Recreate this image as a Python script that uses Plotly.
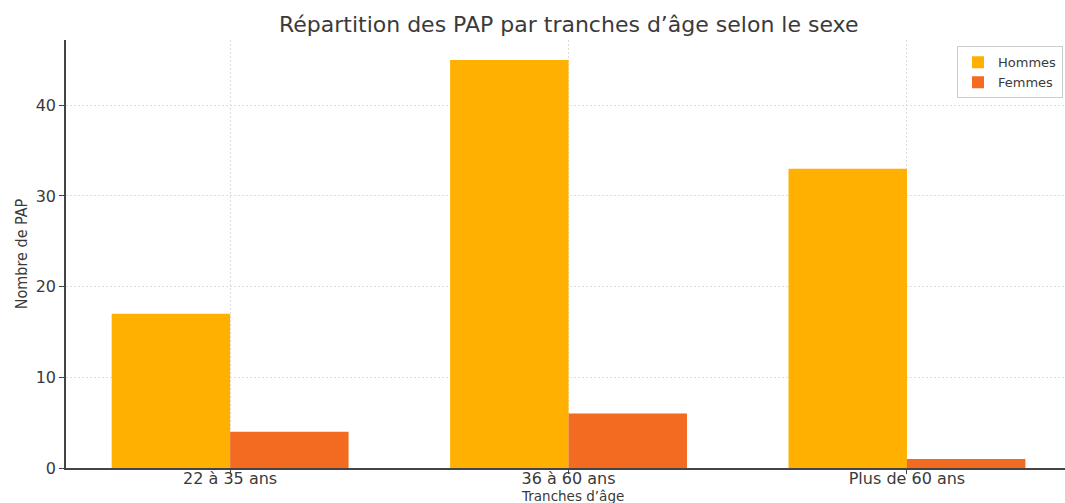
import plotly.graph_objects as go

# Age brackets and head counts of affected persons (PAP) by sex
categories = ["22 à 35 ans", "36 à 60 ans", "Plus de 60 ans"]
hommes = [17, 45, 33]
femmes = [4, 6, 1]

text_color = "#3a3a3a"
font_family = "DejaVu Sans, Verdana, sans-serif"
grid_color = "#dcdcdc"

fig = go.Figure()
fig.add_trace(go.Bar(name="Hommes", x=categories, y=hommes,
                     marker=dict(color="#FFB000", line=dict(width=0))))
fig.add_trace(go.Bar(name="Femmes", x=categories, y=femmes,
                     marker=dict(color="#F26B21", line=dict(width=0))))

fig.update_layout(
    width=1065, height=503,
    margin=dict(l=66, r=0, t=40, b=35, autoexpand=False),
    paper_bgcolor="white", plot_bgcolor="white",
    barmode="group", bargap=0.3, bargroupgap=0,
    font=dict(family=font_family, color=text_color, size=15),
    title=dict(text="Répartition des PAP par tranches d’âge selon le sexe",
               x=0.534, xanchor="center", y=0.952, yanchor="middle",
               font=dict(size=22, color=text_color)),
    legend=dict(x=0.998, xanchor="right", y=0.985, yanchor="top",
                bgcolor="white", bordercolor="#cccccc", borderwidth=1,
                font=dict(size=13, color=text_color),
                itemwidth=30, tracegroupgap=0),
    showlegend=True,
)

# x-axis title sits just below the tick labels
fig.add_annotation(text="Tranches d’âge", xref="paper", yref="paper",
                   x=0.507, y=0, xanchor="center", yanchor="top",
                   yshift=-18, showarrow=False,
                   font=dict(size=13.5, color=text_color))

fig.update_xaxes(
    range=[-0.485, 2.467], automargin=False,
    showline=True, linecolor="#444444", linewidth=1.5,
    ticks="outside", ticklen=4, tickcolor="#444444",
    showgrid=True, gridcolor=grid_color, griddash="2px,2px", gridwidth=1,
    tickfont=dict(size=16, color=text_color),
    ticklabelstandoff=-9,
)
fig.update_yaxes(
    range=[0, 47.2], automargin=False,
    tickvals=[0, 10, 20, 30, 40],
    showline=True, linecolor="#444444", linewidth=1.5,
    ticks="outside", ticklen=5, tickcolor="#444444",
    showgrid=True, gridcolor=grid_color, griddash="2px,2px", gridwidth=1,
    zeroline=False,
    tickfont=dict(size=16, color=text_color),
    title=dict(text="Nombre de PAP", standoff=4,
               font=dict(size=16, color=text_color,
                         family="DejaVu Sans Condensed, DejaVu Sans, sans-serif")),
)

fig.write_html("out.html")
